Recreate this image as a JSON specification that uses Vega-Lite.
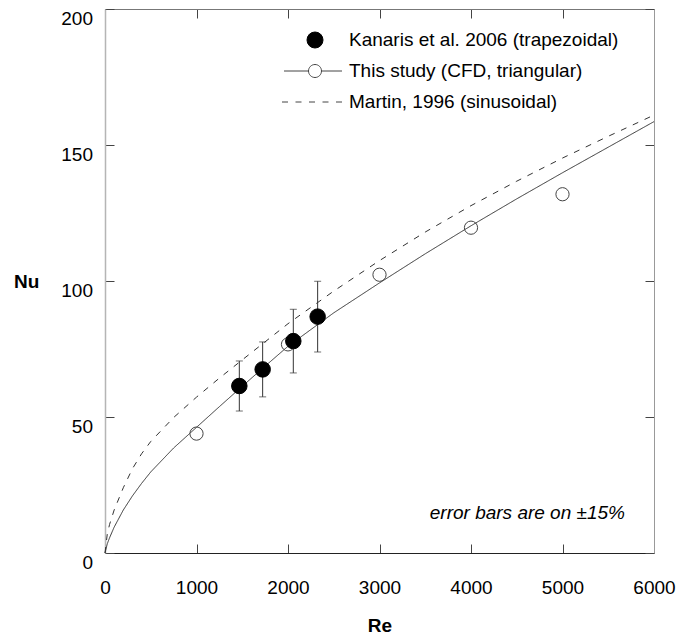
{
  "$schema": "https://vega.github.io/schema/vega-lite/v6.json",
  "width": 549,
  "height": 544,
  "padding": {"left": 13, "top": 8, "right": 5, "bottom": 0},
  "background": "white",
  "config": {
    "font": "Liberation Sans",
    "view": {"stroke": null},
    "axis": {
      "grid": false,
      "labelFontSize": 19,
      "titleFontSize": 19,
      "labelColor": "#000",
      "titleColor": "#000",
      "titleFontWeight": "bold",
      "tickColor": "#444",
      "tickWidth": 1,
      "domainWidth": 1,
      "labelFlush": false,
      "labelOverlap": false
    }
  },
  "datasets": {
    "curves": [
      {"series": "CFD fit", "Re": 0, "Nu": 0},
      {"series": "CFD fit", "Re": 25, "Nu": 3.4},
      {"series": "CFD fit", "Re": 50, "Nu": 5.6},
      {"series": "CFD fit", "Re": 100, "Nu": 9.5},
      {"series": "CFD fit", "Re": 200, "Nu": 15.8},
      {"series": "CFD fit", "Re": 300, "Nu": 21},
      {"series": "CFD fit", "Re": 400, "Nu": 25.6},
      {"series": "CFD fit", "Re": 500, "Nu": 29.8},
      {"series": "CFD fit", "Re": 750, "Nu": 38.6},
      {"series": "CFD fit", "Re": 1000, "Nu": 46.2},
      {"series": "CFD fit", "Re": 1250, "Nu": 53.8},
      {"series": "CFD fit", "Re": 1500, "Nu": 61.3},
      {"series": "CFD fit", "Re": 1750, "Nu": 68.7},
      {"series": "CFD fit", "Re": 2000, "Nu": 76},
      {"series": "CFD fit", "Re": 2500, "Nu": 88.3},
      {"series": "CFD fit", "Re": 3000, "Nu": 99.3},
      {"series": "CFD fit", "Re": 3500, "Nu": 110},
      {"series": "CFD fit", "Re": 4000, "Nu": 120.3},
      {"series": "CFD fit", "Re": 4500, "Nu": 130.2},
      {"series": "CFD fit", "Re": 5000, "Nu": 139.8},
      {"series": "CFD fit", "Re": 5500, "Nu": 149.2},
      {"series": "CFD fit", "Re": 6000, "Nu": 158.6},
      {"series": "Martin 1996", "Re": 0, "Nu": 0},
      {"series": "Martin 1996", "Re": 25, "Nu": 7},
      {"series": "Martin 1996", "Re": 50, "Nu": 10.5},
      {"series": "Martin 1996", "Re": 100, "Nu": 15.8},
      {"series": "Martin 1996", "Re": 200, "Nu": 24},
      {"series": "Martin 1996", "Re": 300, "Nu": 31},
      {"series": "Martin 1996", "Re": 400, "Nu": 36.5},
      {"series": "Martin 1996", "Re": 500, "Nu": 41},
      {"series": "Martin 1996", "Re": 750, "Nu": 49.8},
      {"series": "Martin 1996", "Re": 1000, "Nu": 57.3},
      {"series": "Martin 1996", "Re": 1250, "Nu": 64.3},
      {"series": "Martin 1996", "Re": 1500, "Nu": 71},
      {"series": "Martin 1996", "Re": 2000, "Nu": 84.3},
      {"series": "Martin 1996", "Re": 2500, "Nu": 96.3},
      {"series": "Martin 1996", "Re": 3000, "Nu": 107.5},
      {"series": "Martin 1996", "Re": 3500, "Nu": 118},
      {"series": "Martin 1996", "Re": 4000, "Nu": 127.7},
      {"series": "Martin 1996", "Re": 4500, "Nu": 136.7},
      {"series": "Martin 1996", "Re": 5000, "Nu": 145.2},
      {"series": "Martin 1996", "Re": 5500, "Nu": 153.2},
      {"series": "Martin 1996", "Re": 6000, "Nu": 161}
    ],
    "cfd": [
      {"series": "This study (CFD, triangular)", "Re": 1000, "Nu": 43.9},
      {"series": "This study (CFD, triangular)", "Re": 2000, "Nu": 76.7},
      {"series": "This study (CFD, triangular)", "Re": 3000, "Nu": 102.3},
      {"series": "This study (CFD, triangular)", "Re": 4000, "Nu": 119.6},
      {"series": "This study (CFD, triangular)", "Re": 5000, "Nu": 131.9}
    ],
    "kanaris": [
      {"series": "Kanaris et al. 2006 (trapezoidal)", "Re": 1468, "Nu": 61.4, "lo": 52.2, "hi": 70.6},
      {"series": "Kanaris et al. 2006 (trapezoidal)", "Re": 1723, "Nu": 67.5, "lo": 57.4, "hi": 77.6},
      {"series": "Kanaris et al. 2006 (trapezoidal)", "Re": 2058, "Nu": 77.9, "lo": 66.2, "hi": 89.6},
      {"series": "Kanaris et al. 2006 (trapezoidal)", "Re": 2324, "Nu": 86.9, "lo": 73.9, "hi": 99.9}
    ]
  },
  "layer": [
    {
      "data": {"name": "curves"},
      "mark": {"type": "line", "strokeWidth": 1, "color": "#333"},
      "encoding": {
        "x": {
          "field": "Re", "type": "quantitative",
          "scale": {"domain": [0, 6000], "nice": false},
          "axis": {
            "orient": "bottom", "values": [0, 1000, 2000, 3000, 4000, 5000, 6000], "format": "d",
            "title": "Re", "tickSize": -9, "labelPadding": 34, "titlePadding": 19,
            "domainColor": "#222"
          }
        },
        "y": {
          "field": "Nu", "type": "quantitative",
          "scale": {"domain": [0, 200], "nice": false},
          "axis": {
            "orient": "left", "values": [0, 50, 100, 150, 200], "format": "d",
            "title": "Nu", "titleAngle": 0, "titleAlign": "right", "titleBaseline": "middle",
            "titlePadding": 22, "tickSize": -9, "labelPadding": 21.5, "labelBaseline": "top",
            "domainColor": "#b5b5b5", "domainWidth": 1.5
          }
        },
        "detail": {"field": "series"},
        "strokeDash": {
          "field": "series", "type": "nominal",
          "scale": {"domain": ["CFD fit", "Martin 1996"], "range": [[1, 0], [6, 7]]},
          "legend": null
        }
      }
    },
    {
      "data": {"name": "kanaris"},
      "mark": {"type": "errorbar", "color": "#333", "ticks": {"size": 7, "color": "#333"}},
      "encoding": {
        "x": {"field": "Re", "type": "quantitative", "axis": null},
        "y": {"field": "lo", "type": "quantitative", "axis": null},
        "y2": {"field": "hi"}
      }
    },
    {
      "data": {"name": "cfd"},
      "mark": {"type": "point", "shape": "circle", "filled": false, "size": 175, "strokeWidth": 1, "stroke": "#444", "opacity": 1},
      "encoding": {
        "x": {
          "field": "Re", "type": "quantitative",
          "axis": {"orient": "top", "values": [0, 1000, 2000, 3000, 4000, 5000, 6000], "labels": false, "title": null, "tickSize": -9, "domainColor": "#777"}
        },
        "y": {
          "field": "Nu", "type": "quantitative",
          "axis": {"orient": "right", "values": [0, 50, 100, 150, 200], "labels": false, "title": null, "tickSize": -9, "domainColor": "#999"}
        }
      }
    },
    {
      "data": {"name": "kanaris"},
      "mark": {"type": "point", "filled": true, "size": 240, "strokeWidth": 1, "opacity": 1},
      "encoding": {
        "x": {"field": "Re", "type": "quantitative", "axis": null},
        "y": {"field": "Nu", "type": "quantitative", "axis": null},
        "fill": {
          "field": "series", "type": "nominal",
          "scale": {
            "domain": ["Kanaris et al. 2006 (trapezoidal)", "This study (CFD, triangular)", "Martin, 1996 (sinusoidal)"],
            "range": ["#000000", "transparent", "transparent"]
          },
          "legend": {
            "title": null,
            "orient": "none",
            "legendX": 200.5,
            "legendY": 21.5,
            "padding": 0,
            "labelFontSize": 19,
            "labelColor": "#000",
            "labelLimit": 600,
            "labelOffset": 24.5,
            "symbolSize": 256,
            "symbolStrokeWidth": 1,
            "symbolOpacity": 1,
            "rowPadding": 11
          }
        },
        "stroke": {
          "field": "series", "type": "nominal",
          "scale": {
            "domain": ["Kanaris et al. 2006 (trapezoidal)", "This study (CFD, triangular)", "Martin, 1996 (sinusoidal)"],
            "range": ["#000000", "#444444", "#444444"]
          },
          "legend": {"title": null}
        },
        "shape": {
          "field": "series", "type": "nominal",
          "scale": {
            "domain": ["Kanaris et al. 2006 (trapezoidal)", "This study (CFD, triangular)", "Martin, 1996 (sinusoidal)"],
            "range": [
              "circle",
              "M-3.875,0H-0.8125M0.8125,0H3.375M-0.8125,0A0.8125,0.8125,0,1,1,0.8125,0A0.8125,0.8125,0,1,1,-0.8125,0Z",
              "M-4.125,0H-3.375M-2.4375,0H-1.6875M-0.75,0H0M0.9375,0H1.6875M2.625,0H3.375"
            ]
          },
          "legend": {"title": null}
        }
      }
    },
    {
      "data": {"values": [{"note": "error bars are on ±15%"}]},
      "mark": {"type": "text", "fontSize": 19, "fontStyle": "italic", "align": "right", "baseline": "middle", "color": "#000"},
      "encoding": {
        "x": {"datum": 5683, "type": "quantitative", "axis": null},
        "y": {"datum": 14.6, "type": "quantitative", "axis": null},
        "text": {"field": "note"}
      }
    }
  ],
  "resolve": {"axis": {"x": "independent", "y": "independent"}}
}
